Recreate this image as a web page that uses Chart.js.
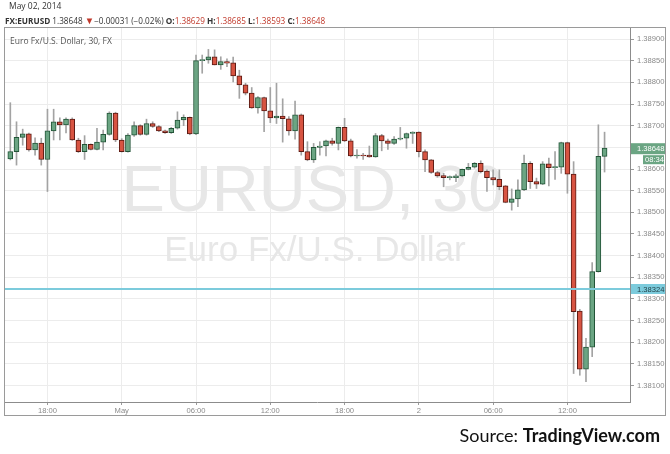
<!DOCTYPE html>
<html><head><meta charset="utf-8">
<script src="https://cdn.jsdelivr.net/npm/chart.js@4.4.1/dist/chart.umd.min.js"></script>
<style>
html,body{margin:0;padding:0;background:#fff;}
#wrap{position:relative;width:670px;height:454px;overflow:hidden;background:#fff;}
#c{position:absolute;left:0;top:0;}
.hd{position:absolute;white-space:nowrap;font-family:"Open Sans","Liberation Sans",Arial,sans-serif;color:#333;}
#hd1{left:9px;top:0px;font-size:8.5px;}
#hd2{left:5px;top:14px;font-size:8.2px;}
#hd2 b{font-weight:700;}
#hd2 .r{color:#c0392b;}
#hd2 .t{font-size:9.5px;}
#src{position:absolute;right:10px;top:424px;font-family:Lato,"Liberation Sans",sans-serif;font-size:18px;color:#111;white-space:nowrap;}
#src b{font-weight:700;}
</style>
</head><body>
<div id="wrap">
<canvas id="c" width="670" height="454"></canvas>
<div class="hd" id="hd1">May 02, 2014</div>
<div class="hd" id="hd2"><b>FX:EURUSD</b> 1.38648 <span class="r t">&#9660;</span>&minus;0.00031 (&minus;0.02%) <b>O:</b><span class="r">1.38629</span> <b>H:</b><span class="r">1.38685</span> <b>L:</b><span class="r">1.38593</span> <b>C:</b><span class="r">1.38648</span></div>
<div id="src">Source: <b>TradingView.com</b></div>
</div>
<script>
// ---- data: 30-minute candles, Apr 30 15:00 -> May 2 15:00 ----
const opens  = [1.38623,1.38640,1.38673,1.38681,1.38644,1.38660,1.38622,1.38688,1.38709,1.38702,
                1.38715,1.38667,1.38640,1.38657,1.38645,1.38662,1.38680,1.38729,1.38667,1.38640,
                1.38678,1.38700,1.38680,1.38705,1.38698,1.38688,1.38684,1.38694,1.38713,1.38719,
                1.38681,1.38850,1.38852,1.38859,1.38840,1.38848,1.38845,1.38815,1.38794,1.38775,
                1.38741,1.38765,1.38734,1.38718,1.38722,1.38716,1.38688,1.38725,1.38640,1.38621,
                1.38650,1.38653,1.38665,1.38659,1.38696,1.38665,1.38630,1.38632,1.38632,1.38628,
                1.38677,1.38665,1.38659,1.38669,1.38671,1.38682,1.38685,1.38640,1.38621,1.38592,
                1.38585,1.38580,1.38580,1.38584,1.38599,1.38604,1.38613,1.38595,1.38580,1.38576,
                1.38561,1.38523,1.38531,1.38552,1.38613,1.38571,1.38565,1.38612,1.38603,1.38604,
                1.38661,1.38588,1.38272,1.38138,1.38189,1.38363,1.38629];
const highs  = [1.38753,1.38709,1.38692,1.38683,1.38672,1.38671,1.38738,1.38738,1.38718,1.38718,
                1.38718,1.38671,1.38677,1.38658,1.38694,1.38690,1.38732,1.38731,1.38670,1.38682,
                1.38709,1.38702,1.38715,1.38709,1.38700,1.38690,1.38696,1.38732,1.38725,1.38720,
                1.38863,1.38863,1.38876,1.38875,1.38859,1.38854,1.38858,1.38828,1.38798,1.38788,
                1.38767,1.38766,1.38788,1.38798,1.38762,1.38721,1.38757,1.38727,1.38663,1.38659,
                1.38663,1.38667,1.38671,1.38697,1.38717,1.38669,1.38645,1.38636,1.38653,1.38682,
                1.38680,1.38669,1.38675,1.38696,1.38683,1.38686,1.38686,1.38644,1.38622,1.38595,
                1.38590,1.38584,1.38588,1.38600,1.38613,1.38615,1.38619,1.38598,1.38598,1.38598,
                1.38562,1.38554,1.38575,1.38632,1.38617,1.38579,1.38617,1.38625,1.38640,1.38662,
                1.38662,1.38617,1.38276,1.38209,1.38384,1.38702,1.38685];
const lows   = [1.38621,1.38609,1.38655,1.38641,1.38632,1.38609,1.38548,1.38667,1.38667,1.38683,
                1.38666,1.38638,1.38622,1.38644,1.38644,1.38644,1.38678,1.38663,1.38639,1.38639,
                1.38675,1.38678,1.38678,1.38696,1.38686,1.38682,1.38682,1.38692,1.38700,1.38679,
                1.38679,1.38821,1.38844,1.38840,1.38830,1.38836,1.38801,1.38763,1.38771,1.38740,
                1.38729,1.38686,1.38707,1.38705,1.38662,1.38678,1.38669,1.38632,1.38619,1.38615,
                1.38632,1.38630,1.38655,1.38644,1.38663,1.38628,1.38625,1.38622,1.38627,1.38627,
                1.38642,1.38645,1.38657,1.38667,1.38648,1.38659,1.38628,1.38594,1.38590,1.38581,
                1.38559,1.38575,1.38571,1.38582,1.38598,1.38602,1.38591,1.38548,1.38563,1.38552,
                1.38522,1.38505,1.38513,1.38550,1.38555,1.38555,1.38564,1.38561,1.38576,1.38590,
                1.38544,1.38128,1.38124,1.38109,1.38167,1.38362,1.38593];
const closes = [1.38640,1.38673,1.38681,1.38644,1.38660,1.38622,1.38688,1.38709,1.38702,1.38715,
                1.38667,1.38640,1.38657,1.38645,1.38662,1.38680,1.38729,1.38667,1.38640,1.38678,
                1.38700,1.38680,1.38705,1.38698,1.38688,1.38684,1.38694,1.38713,1.38719,1.38681,
                1.38850,1.38852,1.38859,1.38840,1.38848,1.38844,1.38815,1.38794,1.38775,1.38741,
                1.38765,1.38734,1.38718,1.38722,1.38716,1.38688,1.38725,1.38640,1.38621,1.38650,
                1.38653,1.38665,1.38659,1.38696,1.38665,1.38630,1.38631,1.38630,1.38628,1.38677,
                1.38665,1.38659,1.38669,1.38671,1.38682,1.38685,1.38640,1.38621,1.38592,1.38584,
                1.38580,1.38582,1.38584,1.38599,1.38604,1.38613,1.38594,1.38580,1.38575,1.38559,
                1.38523,1.38531,1.38552,1.38613,1.38571,1.38565,1.38612,1.38603,1.38604,1.38661,
                1.38588,1.38271,1.38138,1.38189,1.38363,1.38629,1.38648];
const xTickIdx    = [6, 18, 30, 42, 54, 66, 78, 90];
const xTickLabels = ['18:00', 'May', '06:00', '12:00', '18:00', '2', '06:00', '12:00'];
const yTicks = [1.3810,1.3815,1.3820,1.3825,1.3830,1.3835,1.3840,1.3845,1.3850,
                1.3855,1.3860,1.3865,1.3870,1.3875,1.3880,1.3885,1.3890];
const hLineValue = 1.38324;
const barCountdown = '08:34';
const legendText = 'Euro Fx/U.S. Dollar, 30, FX';
const watermark1 = 'EURUSD, 30';
const watermark2 = 'Euro Fx/U.S. Dollar';

const UP = '#6ba583', UP_B = '#225437', DN = '#d75442', DN_B = '#5b1a13', WICK = '#a3a3a3';
const isUp = i => closes[i] >= opens[i];

const wickData = highs.map((h, i) => ({x: i, y: [lows[i], h]}));
const bodyData = opens.map((o, i) => ({x: i, y: [o, closes[i]]}));

const deco = {
  id: 'deco',
  beforeDatasetsDraw(chart) {
    const {ctx, chartArea: a} = chart;
    const cx = (a.left + a.right) / 2 - 4;
    ctx.save();
    ctx.fillStyle = '#e7e7e7';
    ctx.textAlign = 'center';
    ctx.textBaseline = 'middle';
    ctx.font = '65px "Liberation Sans", Arial, sans-serif';
    ctx.fillText(watermark1, cx, 193);
    ctx.font = '35px "Liberation Sans", Arial, sans-serif';
    ctx.fillText(watermark2, cx + 2, 251);
    ctx.restore();
  },
  afterDraw(chart) {
    const {ctx, chartArea: a, scales} = chart;
    const y = scales.y;
    ctx.save();
    // horizontal line
    const hy = Math.round(y.getPixelForValue(hLineValue));
    ctx.strokeStyle = '#7ccbdc';
    ctx.lineWidth = 2;
    ctx.beginPath(); ctx.moveTo(a.left, hy); ctx.lineTo(a.right, hy); ctx.stroke();
    // outer frame
    ctx.strokeStyle = '#9a9a9a';
    ctx.lineWidth = 1;
    ctx.strokeRect(4.5, 27.5, 661, 388);
    // legend
    ctx.fillStyle = '#555';
    ctx.font = '8.5px "Open Sans", "Liberation Sans", sans-serif';
    ctx.textAlign = 'left'; ctx.textBaseline = 'middle';
    ctx.fillText(legendText, 10, 41.5);
    // cyan price label
    ctx.font = '7.6px "Liberation Sans", Arial, sans-serif';
    ctx.fillStyle = '#7ccbdc';
    ctx.fillRect(a.right + 1, hy - 5, 34, 10);
    ctx.fillStyle = '#1f3d44';
    ctx.fillText(hLineValue.toFixed(5), a.right + 7, hy + 0.5);
    // last price label
    const last = closes[closes.length - 1];
    const ly = y.getPixelForValue(last);
    ctx.fillStyle = UP;
    ctx.fillRect(a.right + 1, ly - 5, 34, 11);
    ctx.fillRect(a.right + 13, ly + 7, 21, 9);
    ctx.fillStyle = '#fff';
    ctx.fillText(last.toFixed(5), a.right + 7, ly + 0.5);
    ctx.fillText(barCountdown, a.right + 15, ly + 11.5);
    ctx.restore();
  }
};

new Chart(document.getElementById('c'), {
  type: 'bar',
  data: {
    datasets: [
      {data: wickData, backgroundColor: WICK, borderWidth: 0, barThickness: 1,
       grouped: false, order: 2, minBarLength: 1},
      {data: bodyData,
       backgroundColor: ctx => isUp(ctx.dataIndex) ? UP : DN,
       borderColor: ctx => isUp(ctx.dataIndex) ? UP_B : DN_B,
       borderWidth: 1, borderSkipped: false, barThickness: 5,
       grouped: false, order: 1, minBarLength: 1}
    ]
  },
  options: {
    responsive: false,
    animation: false,
    layout: {padding: {left: 4, top: 27, right: 4, bottom: 38}},
    plugins: {legend: {display: false}, tooltip: {enabled: false}},
    scales: {
      x: {
        type: 'linear', position: 'bottom', min: -1.02, max: 100.11, offset: false,
        afterBuildTicks: s => { s.ticks = xTickIdx.map(v => ({value: v})); },
        afterFit: s => { s.height = 14; },
        ticks: {
          callback: v => { const k = xTickIdx.indexOf(v); return k < 0 ? '' : xTickLabels[k]; },
          color: '#8a8a8a', font: {family: '"Liberation Sans", Arial, sans-serif', size: 7.6},
          padding: 1, maxRotation: 0, autoSkip: false
        },
        grid: {color: '#ececec', tickColor: '#9a9a9a', tickLength: 3, offset: false},
        border: {color: '#8c8c8c'}
      },
      y: {
        type: 'linear', position: 'right', min: 1.380623, max: 1.389277,
        afterBuildTicks: s => { s.ticks = yTicks.map(v => ({value: v})); },
        afterFit: s => { s.width = 36; },
        ticks: {
          callback: v => v.toFixed(5),
          color: '#8a8a8a', font: {family: '"Liberation Sans", Arial, sans-serif', size: 7.6},
          padding: 3
        },
        grid: {color: '#ececec', tickColor: '#9a9a9a', tickLength: 4},
        border: {color: '#8c8c8c'}
      }
    }
  },
  plugins: [deco]
});
</script>
</body></html>
